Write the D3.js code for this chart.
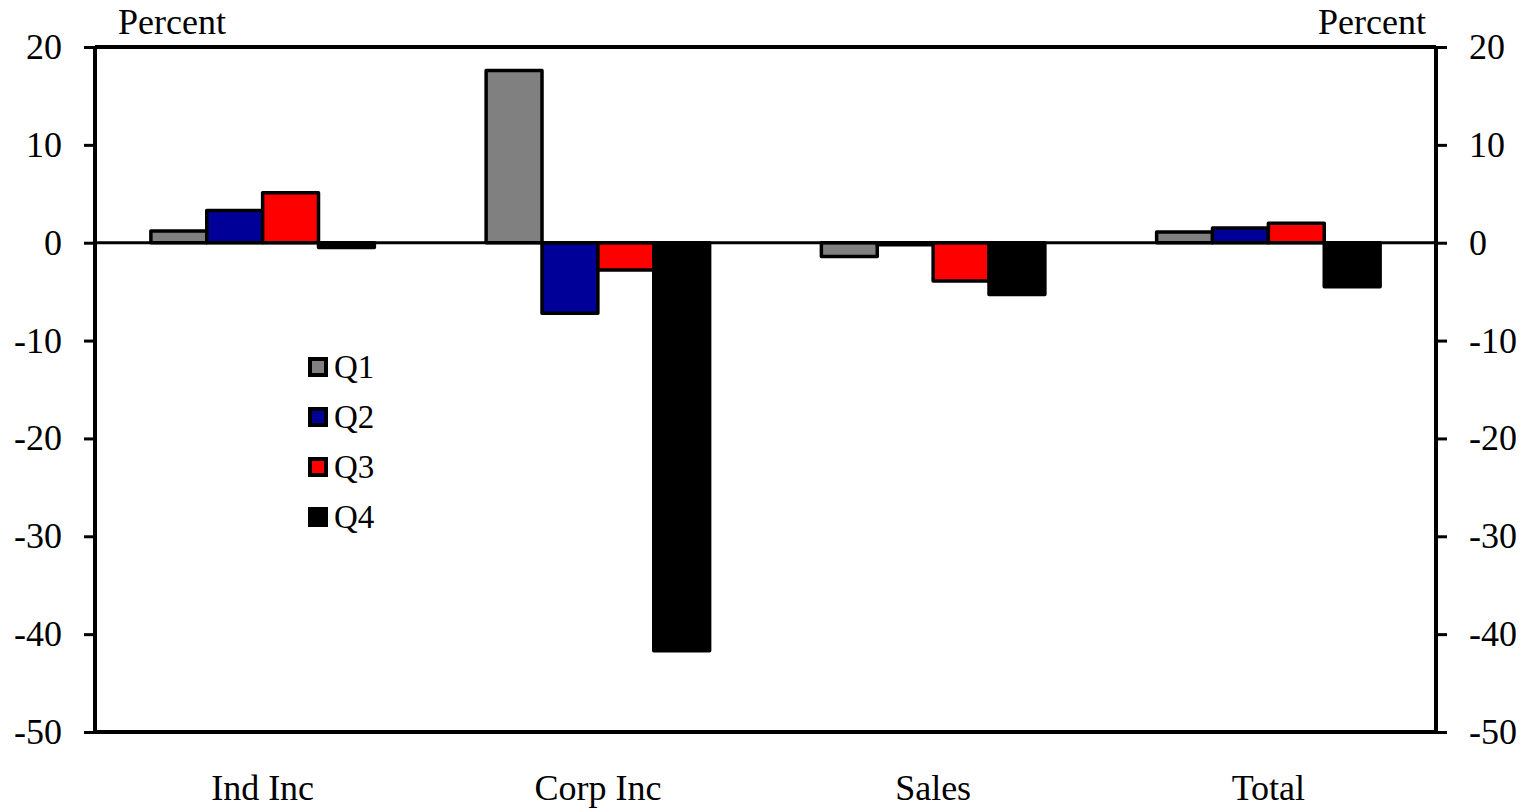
<!DOCTYPE html>
<html>
<head>
<meta charset="utf-8">
<script src="https://cdn.jsdelivr.net/npm/d3@7"></script>
<style>
  body { margin: 0; background: #fff; }
  text { font-family: "Liberation Serif", "Times New Roman", serif; fill: #000; }
</style>
</head>
<body>
<svg width="1529" height="809"></svg>
<script>
const categories = ['Ind Inc', 'Corp Inc', 'Sales', 'Total']
const seriesNames = ['Q1', 'Q2', 'Q3', 'Q4']
const q1 = [1.2, 17.6, -1.4, 1.1]
const q2 = [3.3, -7.2, -0.2, 1.5]
const q3 = [5.1, -2.8, -3.9, 2.0]
const q4 = [-0.5, -41.7, -5.3, -4.5]
const yTicks = [20, 10, 0, -10, -20, -30, -40, -50]
const colors = ['#808080', '#000099', '#ff0000', '#000000']

const svg = d3.select('svg')
const margin = {top: 47, right: 93, bottom: 77, left: 95}
const w = +svg.attr('width')
const h = +svg.attr('height')
const innerWidth = w - margin.left - margin.right
const innerHeight = h - margin.top - margin.bottom

const values = [q1, q2, q3, q4]
const data = categories.map((c, i) => ({
  category: c,
  vals: seriesNames.map((s, j) => ({series: s, value: values[j][i]}))
}))

const xScale = d3.scaleBand()
  .domain(categories)
  .range([0, innerWidth])
  .padding(0)

const xInner = d3.scaleBand()
  .domain(seriesNames)
  .range([0, xScale.bandwidth()])
  .paddingInner(0)
  .paddingOuter(1)

const yScale = d3.scaleLinear()
  .domain([-50, 20])
  .range([innerHeight, 0])

const color = d3.scaleOrdinal().domain(seriesNames).range(colors)

const g = svg.append('g')
  .attr('transform', `translate(${margin.left}, ${margin.top})`)

// bars
const groups = g.selectAll('.grp').data(data)
  .enter().append('g')
    .attr('class', 'grp')
    .attr('transform', d => `translate(${xScale(d.category)}, 0)`)

groups.selectAll('rect').data(d => d.vals)
  .enter().append('rect')
    .attr('x', d => xInner(d.series))
    .attr('y', d => yScale(Math.max(0, d.value)))
    .attr('width', xInner.bandwidth())
    .attr('height', d => Math.abs(yScale(d.value) - yScale(0)))
    .attr('fill', d => color(d.series))
    .attr('stroke', '#000')
    .attr('stroke-width', 3.5)
    .attr('stroke-linejoin', 'round')

// zero line
g.append('line')
  .attr('x1', 0).attr('x2', innerWidth)
  .attr('y1', yScale(0)).attr('y2', yScale(0))
  .attr('stroke', '#000').attr('stroke-width', 3)

// frame top/bottom
g.append('line')
  .attr('x1', 0).attr('x2', innerWidth)
  .attr('y1', 0).attr('y2', 0)
  .attr('stroke', '#000').attr('stroke-width', 4)
g.append('line')
  .attr('x1', 0).attr('x2', innerWidth)
  .attr('y1', innerHeight).attr('y2', innerHeight)
  .attr('stroke', '#000').attr('stroke-width', 4)

// axes (plain hyphen for negatives)
const fmt = d => String(d)
const leftAxis = d3.axisLeft(yScale).tickValues(yTicks).tickSize(11).tickPadding(22).tickFormat(fmt)
const rightAxis = d3.axisRight(yScale).tickValues(yTicks).tickSize(11).tickPadding(22).tickFormat(fmt)

const styleAxis = sel => {
  sel.select('.domain').attr('stroke-width', 4).attr('d', `M0,0V${innerHeight}`)
  sel.selectAll('.tick line').attr('stroke-width', 3)
  sel.selectAll('.tick text')
    .style('font-family', '"Liberation Serif", "Times New Roman", serif')
    .style('font-size', '36px')
    .attr('fill', '#000')
}

g.append('g').call(leftAxis).call(styleAxis)
g.append('g').attr('transform', `translate(${innerWidth}, 0)`).call(rightAxis).call(styleAxis)

// category labels
g.selectAll('.cat').data(categories)
  .enter().append('text')
    .attr('class', 'cat')
    .attr('x', d => xScale(d) + xScale.bandwidth() / 2)
    .attr('y', innerHeight + 68)
    .attr('text-anchor', 'middle')
    .style('font-size', '36px')
    .text(d => d)

// unit labels
svg.append('text').attr('x', 118).attr('y', 34).style('font-size', '36px').text('Percent')
svg.append('text').attr('x', 1426).attr('y', 34).attr('text-anchor', 'end').style('font-size', '36px').text('Percent')

// legend
const legend = svg.append('g').attr('transform', 'translate(310, 359)')
const li = legend.selectAll('g').data(seriesNames)
  .enter().append('g')
    .attr('transform', (d, i) => `translate(0, ${i * 50})`)
li.append('rect')
  .attr('width', 16).attr('height', 16)
  .attr('fill', d => color(d))
  .attr('stroke', '#000').attr('stroke-width', 4)
li.append('text')
  .attr('x', 24).attr('y', 19)
  .style('font-size', '33px')
  .text(d => d)
</script>
</body>
</html>
